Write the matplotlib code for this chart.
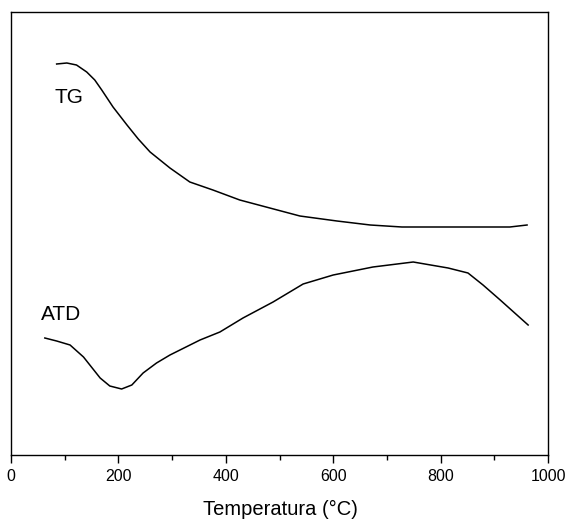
import matplotlib.pyplot as plt
from matplotlib.ticker import MultipleLocator

plt.rcParams['font.family'] = ['Liberation Sans', 'DejaVu Sans']

# TG curve (temperature in C, signal in arbitrary units)
tg_temp = [85, 104, 122, 141, 156, 169, 190, 216, 237, 259, 296, 333,
           376, 426, 482, 538, 607, 669, 728, 929, 961]
tg_signal = [391, 392, 390, 383, 375, 365, 348, 330, 316, 303, 287, 273,
             265, 255, 247, 239, 234, 230, 228, 228, 230]

# ATD curve
atd_temp = [63, 85, 110, 135, 166, 184, 206, 225, 246, 271, 296, 352,
            389, 432, 488, 544, 600, 674, 749, 814, 851, 879, 911, 963]
atd_signal = [117, 114, 110, 98, 77, 69, 66, 70, 82, 92, 100, 115,
              123, 137, 153, 171, 180, 188, 193, 187, 182, 170, 155, 130]

fig = plt.figure(figsize=(5.68, 5.22), dpi=100)
ax = fig.add_axes([11 / 568, 1 - 455 / 522, 537 / 568, 443 / 522])

ax.plot(tg_temp, tg_signal, color='black', lw=1.1)
ax.plot(atd_temp, atd_signal, color='black', lw=1.1)

fig.text(68.5 / 568, 1 - 103 / 522, 'TG', ha='center', va='baseline',
         fontsize=15)
fig.text(61 / 568, 1 - 320 / 522, 'ATD', ha='center', va='baseline',
         fontsize=15)

ax.set_xlim(0, 1000)
ax.set_ylim(0, 443)
ax.xaxis.set_major_locator(MultipleLocator(200))
ax.xaxis.set_minor_locator(MultipleLocator(100))
ax.tick_params(axis='x', which='major', direction='out', length=6, width=1,
               labelsize=11.5, pad=4)
ax.tick_params(axis='x', which='minor', direction='out', length=3.3, width=1)
ax.set_yticks([])
for s in ax.spines.values():
    s.set_linewidth(1.0)

ax.set_xlabel('Temperatura (°C)', fontsize=14.5, va='top')
ax.xaxis.set_label_coords(280 / 537 - 11 / 537, -(500 - 455) / 443)

fig.savefig('out.png', dpi=100)
